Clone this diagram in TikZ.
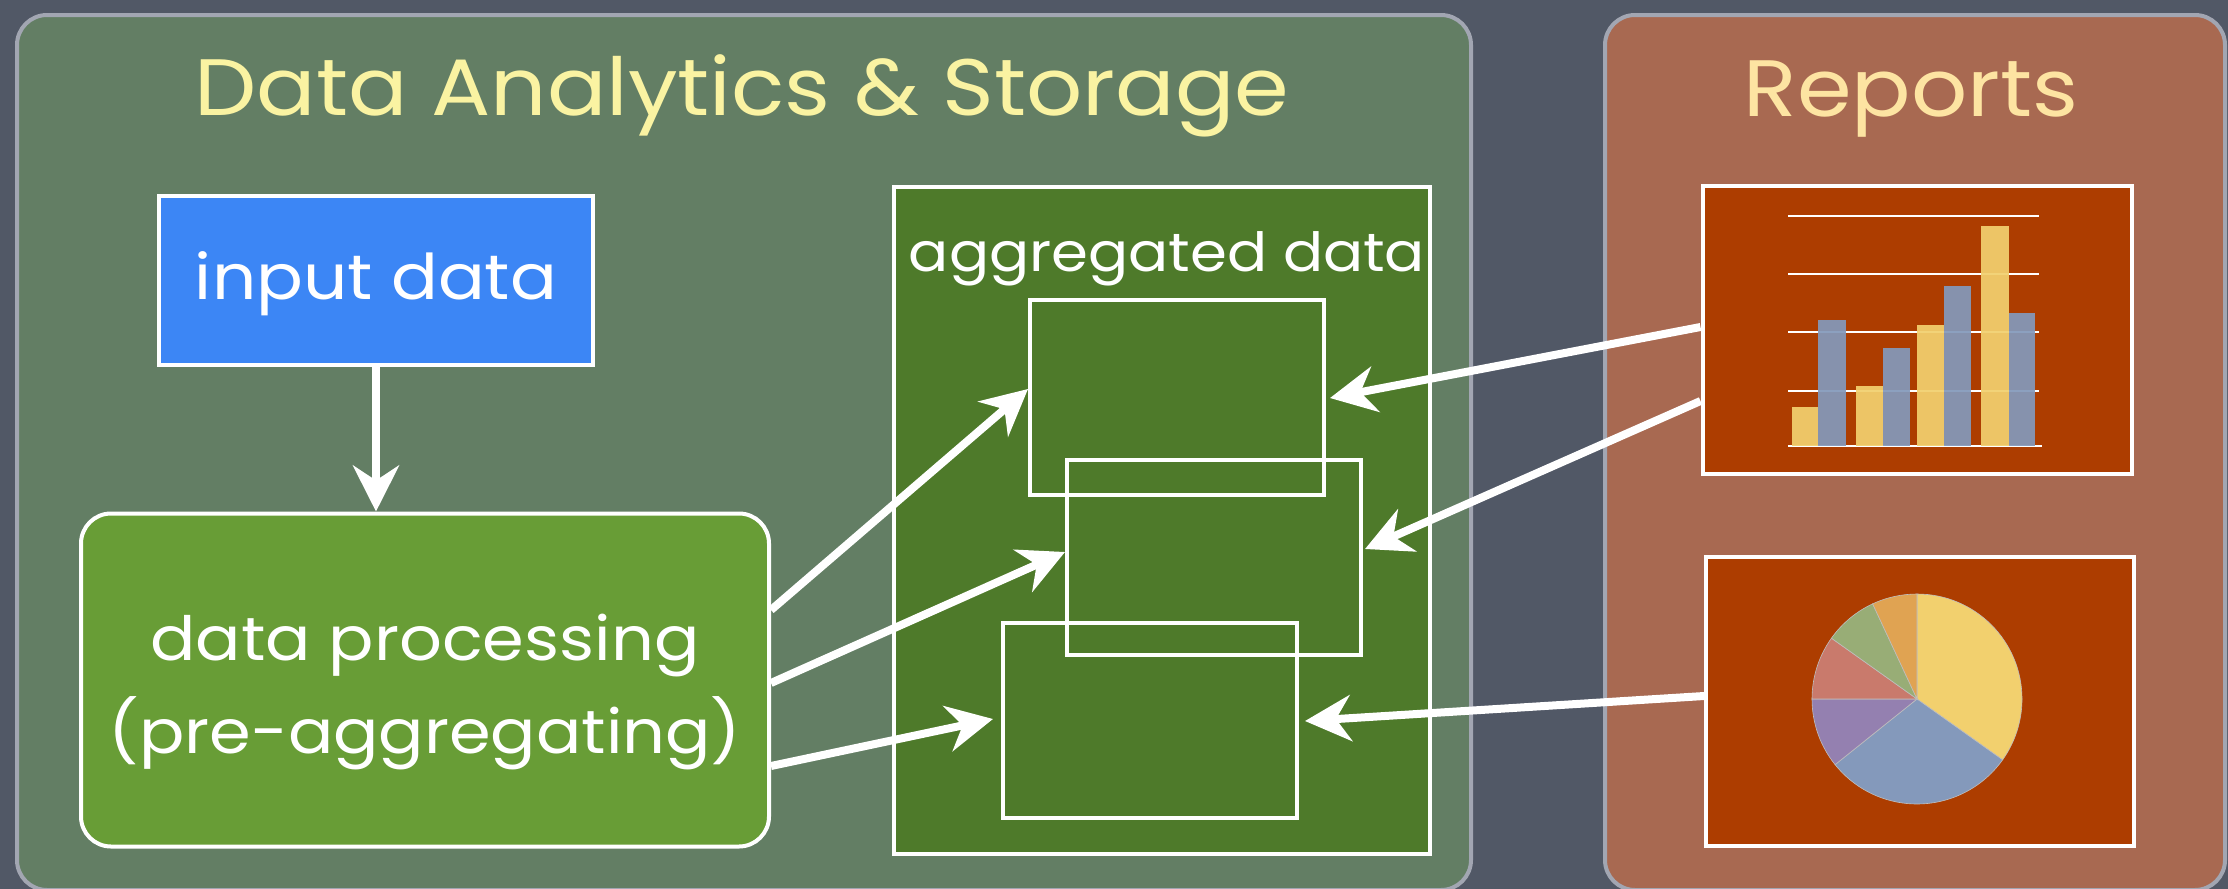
\documentclass[tikz,border=0pt]{standalone}
\usepackage{fontspec}
\setmainfont[FakeStretch=1.1]{Poppins}
\usetikzlibrary{arrows.meta}

\definecolor{board}{HTML}{515866}
\definecolor{panelrim}{HTML}{A2A6B2}
\definecolor{panelgreen}{HTML}{637E64}
\definecolor{panelred}{HTML}{A86951}
\definecolor{titleyellow}{HTML}{FAF3A2}
\definecolor{titlepeach}{HTML}{FDE4A2}
\definecolor{inputblue}{HTML}{3C86F5}
\definecolor{procgreen}{HTML}{689D36}
\definecolor{storegreen}{HTML}{4E7A2A}
\definecolor{reportred}{HTML}{AD3D00}
\definecolor{baryellow}{HTML}{F2D06E}
\definecolor{barblue}{HTML}{8499BB}
\definecolor{piepurple}{HTML}{9480B0}
\definecolor{piered}{HTML}{C97A6C}
\definecolor{piegreen}{HTML}{98AD76}
\definecolor{pieorange}{HTML}{E0A352}

\tikzset{
  panel/.style={draw=panelrim, line width=4pt, rounded corners=30pt},
  heading/.style={anchor=base, inner sep=0pt, font=\fontsize{80}{84}\selectfont},
  whitebox/.style={draw=white, line width=4pt, inner sep=0pt},
  boxtext/.style={text=white, align=center, inner sep=0pt},
  slot/.style={whitebox, minimum width=294pt, minimum height=195pt},
  arr/.style={draw=white, line width=8pt,
    -{Stealth[length=46pt, width=46pt, inset=15pt]}},
  grid/.style={draw=white, line width=2pt},
}

\begin{document}
\begin{tikzpicture}[x=1pt, y=-1pt]
% chalkboard and its two panels
\fill[board] (0,0) rectangle (2228,889);
\useasboundingbox (0,0) rectangle (2228,889);
\draw[panel, fill=panelgreen] (17,15) rectangle (1471,890);
\draw[panel, fill=panelred] (1605,15) rectangle (2225,890);

\node[heading, text=titleyellow] (ttl) at (742,115) {Data Analytics \& Storage};
\node[heading, text=titlepeach] (rep) at (1911,116) {Reports};

% processing chain
\node[whitebox, fill=inputblue, minimum width=434pt, minimum height=169pt]
  (input) at (376,280) {};
\node[boxtext, font=\fontsize{63}{66}\selectfont] (inputlbl)
  at ([yshift=-4pt]input.center) {input data};
\node[whitebox, fill=procgreen, rounded corners=30pt,
  minimum width=688pt, minimum height=333pt]
  (proc) at (425,680) {};
\node[boxtext, font=\fontsize{61}{93}\selectfont] (proclbl)
  at ([yshift=-12pt]proc.center) {data processing\\(pre-aggregating)};
\draw[arr] (input.south) -- (input.south |- proc.north);

% aggregated storage
\node[whitebox, fill=storegreen, minimum width=536pt, minimum height=667pt]
  (store) at (1162,520) {};
\node[anchor=base, text=white, inner sep=0pt, font=\fontsize{54}{58}\selectfont]
  (storelbl) at (1167,271) {aggregated data};
\node[slot] (boxA) at (1177,397) {};
\node[slot] (boxB) at (1214,557) {};
\node[slot] (boxC) at (1150,720) {};

% report panels
\node[whitebox, fill=reportred, minimum width=429pt, minimum height=288pt]
  (bars) at (1917,330) {};
\node[whitebox, fill=reportred, minimum width=428pt, minimum height=289pt]
  (pie) at (1920,701) {};

% arrows into the aggregated tables
\draw[arr] (proc.east |- 0,610) -- (boxA.west |- 0,389);
\draw[arr] (proc.east |- 0,683) -- (boxB.west |- 0,552);
\draw[arr] (proc.east |- 0,766) -- ([xshift=-8pt]boxC.west |- 0,719);
\draw[arr] (bars.west |- 0,327) -- ([xshift=4pt]boxA.east |- 0,398);
\draw[arr] (bars.west |- 0,401) -- ([xshift=2pt]boxB.east |- 0,549);
\draw[arr] (pie.west |- 0,696) -- ([xshift=6pt]boxC.east |- 0,721);

% bar chart
\foreach \gy in {216,274,332,391} \draw[grid] (1788,\gy) -- (2039,\gy);
\draw[grid] (1788,446) -- (2042,446);
\begin{scope}[opacity=0.93]
\fill[baryellow] (1792,446) rectangle (1818,407);
\fill[barblue]   (1818,446) rectangle (1846,320);
\fill[baryellow] (1856,446) rectangle (1883,386);
\fill[barblue]   (1883,446) rectangle (1910,348);
\fill[baryellow] (1917,446) rectangle (1944,325);
\fill[barblue]   (1944,446) rectangle (1971,286);
\fill[baryellow] (1981,446) rectangle (2009,226);
\fill[barblue]   (2009,446) rectangle (2035,313);
\end{scope}

% pie chart
\begin{scope}[shift={(1917,699)}, draw=black!25, line width=0.6pt]
\filldraw[fill=baryellow] (0,0) -- (-90:105) arc[start angle=-90, end angle=35.4, radius=105] -- cycle;
\filldraw[fill=barblue] (0,0) -- (35.4:105) arc[start angle=35.4, end angle=141.3, radius=105] -- cycle;
\filldraw[fill=piepurple] (0,0) -- (141.3:105) arc[start angle=141.3, end angle=180, radius=105] -- cycle;
\filldraw[fill=piered] (0,0) -- (180:105) arc[start angle=180, end angle=215.4, radius=105] -- cycle;
\filldraw[fill=piegreen] (0,0) -- (215.4:105) arc[start angle=215.4, end angle=245, radius=105] -- cycle;
\filldraw[fill=pieorange] (0,0) -- (245:105) arc[start angle=245, end angle=270, radius=105] -- cycle;
\end{scope}
\end{tikzpicture}
\end{document}
